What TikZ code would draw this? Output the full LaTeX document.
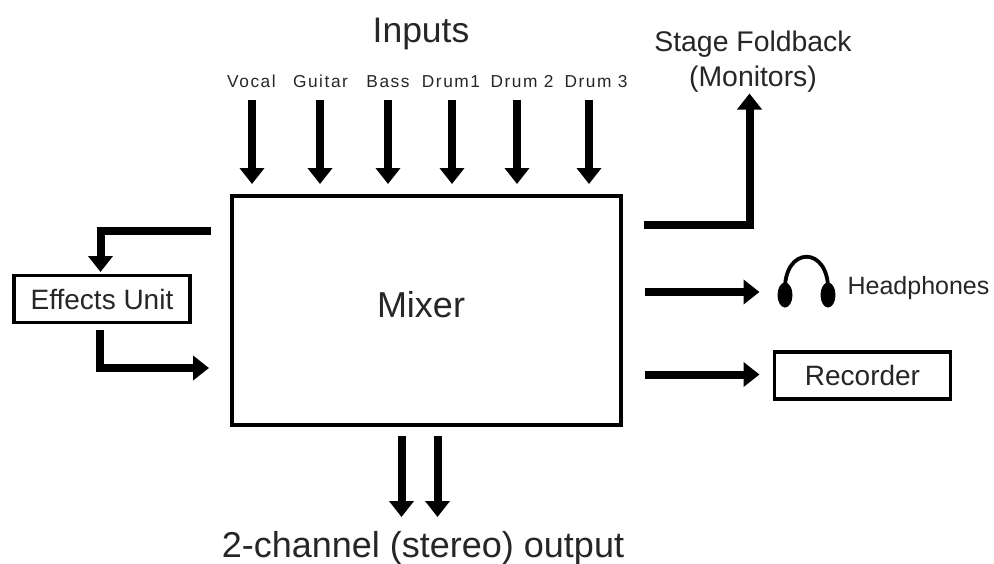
\documentclass[tikz,border=0pt]{standalone}
\usepackage{fontspec}
\setmainfont{Liberation Sans}
\newfontfamily\spaced[LetterSpace=9]{Liberation Sans}
\usetikzlibrary{arrows.meta}
\newcommand{\fs}[1]{\fontsize{#1}{#1}\selectfont}
\tikzset{
  x=1pt,y=-1pt,
  every node/.style={inner sep=0pt,outer sep=0pt,text=black!85},
  flow/.style={line width=8pt,-{Triangle[length=16pt,width=24pt]},line join=miter},
  boxed/.style={draw=black,line width=3.6pt,fill=white,minimum height=47pt,text=black!85},
  inlabel/.style={font=\spaced\fs{17.3},anchor=base},
}
\begin{document}
\begin{tikzpicture}
\useasboundingbox (0,0) rectangle (994,563);
\node[boxed,minimum width=389pt,minimum height=229pt] (mixer) at (426.5,310.5) {};
\node[font=\fs{36}] (mixertext) at (421,305) {Mixer};
\node[boxed,minimum width=176pt,font=\fs{28}] (fx) at (102,299) {Effects Unit};
\node[boxed,minimum width=176pt,font=\fs{28}] (rec) at (862.5,375.5) {Recorder};
\node[font=\fs{35.5}] (inputs) at (421,34) {Inputs};
\node[font=\fs{28.4}] (stage) at (753,44) {Stage Foldback};
\node[font=\fs{28.4}] (mon) at (753,79) {(Monitors)};
\node[font=\fs{25}] (hp) at (918.5,288) {Headphones};
\node[font=\fs{36}] (out) at (423,548) {2-channel (stereo) output};
\foreach \n/\t/\x/\ax in {a/Vocal/251.5/252,b/Guitar/320.5/320,c/Bass/388/388,d/Drum1/451/452,e/Drum 2/522/517,f/Drum 3/596/589}{
  \node[inlabel] (l\n) at (\x,87) {\t};
  \coordinate (s\n) at (\ax,100);
  \coordinate (t\n) at (\ax,184);
  \draw[flow] (s\n) -- (t\n);
}
\coordinate (o1) at (401.5,436); \coordinate (o1e) at (401.5,517);
\coordinate (o2) at (437.5,436); \coordinate (o2e) at (437.5,517);
\draw[flow] (o1) -- (o1e);
\draw[flow] (o2) -- (o2e);
\coordinate (fxs) at (211,230.5); \coordinate (fxe) at (100.5,272);
\draw[flow] (fxs) -| (fxe);
\coordinate (fxo) at (100,330); \coordinate (fxt) at (209,368);
\draw[flow] (fxo) |- (fxt);
\coordinate (ms) at (644,224.5); \coordinate (me) at (749.5,93.5);
\draw[flow] (ms) -| (me);
\coordinate (hs) at (645,292); \coordinate (he) at (759.5,292);
\draw[flow] (hs) -- (he);
\coordinate (rs) at (645,374.5); \coordinate (re) at (759.5,374.5);
\draw[flow] (rs) -- (re);
% headphones icon
\draw[line width=3.8pt] (785,292) .. controls (783,245) and (830,245) .. (828,292);
\fill (785,295) ellipse [x radius=7.5, y radius=12.5];
\fill (828,295) ellipse [x radius=7.5, y radius=12.5];
\end{tikzpicture}
\end{document}
